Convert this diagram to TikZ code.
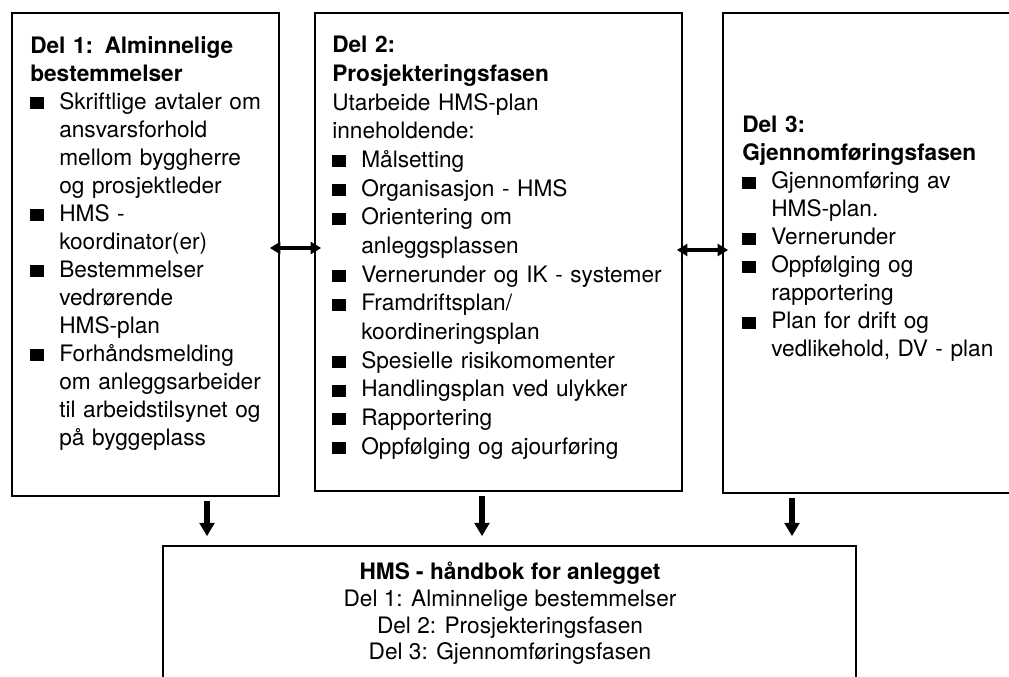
\documentclass[tikz,border=0pt]{standalone}
\usepackage{fontspec}
\setmainfont{TeX Gyre Heros}
\usetikzlibrary{arrows.meta,fit}
\setlength\parindent{0pt}
\setlength\parskip{0pt}
\newcommand\bitem[1]{\par\hangindent=21.75pt\hangafter=1\noindent\makebox[21.75pt][l]{\rule{10.5pt}{9pt}}#1\par}
\tikzset{
 box/.style={draw, line width=1.2pt, inner sep=0pt},
 boxtext/.style={anchor=north west, inner sep=0pt, text width=300pt, align=left, font=\fontsize{17}{21}\selectfont},
 downarrow/.style={line width=4.2pt, -{Triangle[length=10pt,width=11pt]}},
 twoway/.style={line width=2.4pt, {Triangle[length=8pt,width=9pt]}-{Triangle[length=8pt,width=9pt]}},
}
\begin{document}
\begin{tikzpicture}[x=0.75pt,y=-0.75pt]
\useasboundingbox (0,0) rectangle (1009,676);
\clip (0,0) rectangle (1009,676);
\fill[white] (0,0) rectangle (1009,676);
% boxes
\node[box, fit={(12,13) (279,496)}] (b1) {};
\node[box, fit={(315,13) (682,491)}] (b2) {};
\node[box, fit={(723,13) (1040,493)}] (b3) {};
\node[box, fit={(163,546) (856,720)}] (hb) {};
% texts
\node[boxtext] (t1) at (30,36) {\textbf{Del 1: Alminnelige\newline bestemmelser}
\bitem{Skriftlige avtaler om\newline ansvarsforhold\newline mellom byggherre\newline og prosjektleder}
\bitem{HMS -\newline koordinator(er)}
\bitem{Bestemmelser\newline vedrørende\newline HMS-plan}
\bitem{Forhåndsmelding\newline om anleggsarbeider\newline til arbeidstilsynet og\newline på byggeplass}};
\node[boxtext, font=\fontsize{17}{21.5}\selectfont] (t2) at (332,36) {\textbf{Del 2:\newline Prosjekteringsfasen}\newline Utarbeide HMS-plan\newline inneholdende:
\bitem{Målsetting}
\bitem{Organisasjon - HMS}
\bitem{Orientering om\newline anleggsplassen}
\bitem{Vernerunder og IK - systemer}
\bitem{Framdriftsplan/\newline koordineringsplan}
\bitem{Spesielle risikomomenter}
\bitem{Handlingsplan ved ulykker}
\bitem{Rapportering}
\bitem{Oppfølging og ajourføring}};
\node[boxtext] (t3) at (742,116) {\textbf{Del 3:\newline Gjennomføringsfasen}
\bitem{Gjennomføring av\newline HMS-plan.}
\bitem{Vernerunder}
\bitem{Oppfølging og\newline rapportering}
\bitem{Plan for drift og\newline vedlikehold, DV - plan}};
\node[anchor=north, inner sep=0pt, align=center, font=\fontsize{17}{20}\selectfont] (ht) at (510,562) {\textbf{HMS - håndbok for anlegget}\\Del 1: Alminnelige bestemmelser\\Del 2: Prosjekteringsfasen\\Del 3: Gjennomføringsfasen};
% connectors
\coordinate (m1) at (0,248);
\coordinate (m2) at (0,250);
\draw[twoway, shorten <=-7.5pt, shorten >=-5.25pt] (b1.east |- m1) -- (b2.west |- m1);
\draw[twoway, shorten <=-4.5pt, shorten >=-4.5pt] (b2.east |- m2) -- (b3.west |- m2);
\coordinate (x1) at (207,0);
\coordinate (x2) at (482,0);
\coordinate (x3) at (792,0);
\draw[downarrow, shorten <=3pt, shorten >=6.75pt] (b1.south -| x1) -- (hb.north -| x1);
\draw[downarrow, shorten <=3pt, shorten >=6.75pt] (b2.south -| x2) -- (hb.north -| x2);
\draw[downarrow, shorten <=3pt, shorten >=6.75pt] (b3.south -| x3) -- (hb.north -| x3);
\end{tikzpicture}
\end{document}
